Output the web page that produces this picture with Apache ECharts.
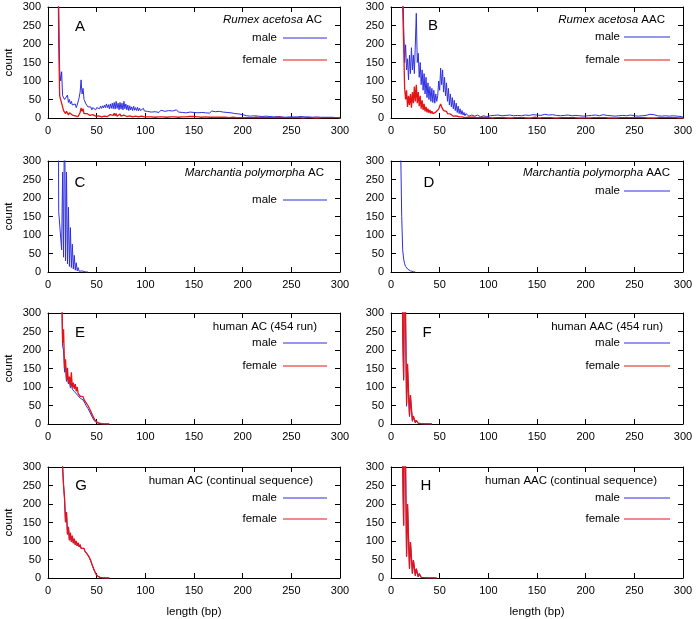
<!DOCTYPE html>
<html>
<head>
<meta charset="utf-8">
<script src="https://cdn.jsdelivr.net/npm/echarts@6/dist/echarts.min.js"></script>
<style>
  html, body { margin: 0; padding: 0; background: #fff; }
  .container { width: 697px; height: 619px; }
</style>
</head>
<body>
<div class="container"></div>
<script>
// counts per repeat length (bp); "near" arrays step 1 bp, "tail" arrays step 2 bp
const aMaleStart = 10;
const aMale = [
    900, 300, 130, 100, 125, 60, 65, 50, 55, 45,
    62, 42, 50, 38, 45, 35, 40, 30, 38, 28,
    35, 40, 55, 70, 103, 65, 80, 50, 55, 38,
    40, 30, 32, 25, 30, 22, 28, 24, 30, 22,
    28, 23, 30, 25, 32, 26, 33, 27, 35, 28,
    38, 28, 36, 25, 38, 26, 40, 25, 42, 24,
    45, 26, 40, 22, 42, 24, 40, 22, 45, 25,
    38, 22, 35, 20, 33, 22, 30, 20, 32, 21,
    28, 20, 29, 19, 27, 20, 25, 18, 26, 19,
    24
];
const aFemale = [
    600, 200, 60, 55, 62, 30, 20, 25, 12, 18,
    15, 8, 14, 10, 16, 8, 12, 4, 6, 3,
    5, 4, 8, 15, 27, 18, 25, 12, 15, 10,
    12, 8, 11, 7, 10, 6, 9, 5, 8, 5,
    7, 4, 6, 4, 5, 3, 6, 4, 5, 3,
    6, 4, 7, 5, 9, 6, 12, 7, 13, 6,
    12, 5, 10, 6, 11, 5, 9, 4, 8, 5,
    7, 4, 6, 3, 6, 4, 5, 3, 6, 4,
    5, 3, 5, 3, 4, 3, 5, 2, 4, 3,
    4
];
const tailStart = 102;
const aMaleTail = [
    18, 22, 16, 20, 17, 19, 15, 21, 16, 18, 14, 20, 17, 19, 15, 22, 16, 20, 15, 19, 14, 18, 16, 21, 15,
    19, 14, 18, 15, 20, 14, 17, 13, 19, 15, 17, 12, 18, 14, 16, 12, 15, 11, 14, 10, 12, 9, 11, 8, 9,
    8, 6, 9, 5, 7, 6, 8, 5, 7, 4, 6, 5, 7, 4, 5, 3, 6, 4, 5, 3, 4, 2, 4, 3, 3,
    3, 2, 3, 2, 4, 2, 3, 1, 3, 2, 2, 1, 3, 2, 2, 1, 2, 1, 2, 1, 2, 1, 1, 2, 1
];
const aFemaleTail = [
    3, 5, 3, 4, 2, 5, 3, 4, 3, 5, 2, 4, 3, 5, 3, 4, 2, 4, 3, 5, 3, 6, 4, 8, 4,
    5, 3, 4, 2, 4, 3, 3, 2, 4, 2, 3, 2, 3, 2, 3, 2, 2, 1, 3, 2, 2, 1, 2, 1, 2,
    1, 2, 1, 2, 1, 1, 2, 1, 1, 2, 1, 1, 1, 2, 1, 1, 1, 1, 2, 1, 1, 1, 1, 1, 1,
    1, 1, 0, 1, 1, 0, 1, 1, 0, 1, 1, 0, 1, 0, 1, 1, 0, 1, 0, 1, 0, 1, 0, 1, 0
];

const bMaleStart = 10;
const bMale = [
    2000, 800, 400, 250, 150, 198, 130, 160, 103, 170,
    120, 190, 130, 170, 120, 200, 283, 150, 175, 110,
    150, 90, 130, 75, 120, 65, 110, 55, 95, 50,
    85, 45, 80, 42, 75, 40, 65, 45, 60, 100,
    75, 135, 90, 130, 70, 110, 60, 95, 45, 80,
    35, 65, 30, 55, 25, 48, 20, 40, 15, 32,
    12, 25, 10, 20, 8, 15, 6, 12, 7, 10,
    5, 9, 5, 8, 4, 8, 5, 7, 4, 8,
    4, 7, 3, 8, 4, 6, 3, 7, 4, 6,
    3
];
const bFemale = [
    1500, 600, 300, 200, 81, 50, 75, 30, 60, 35,
    65, 28, 70, 40, 85, 45, 90, 40, 70, 32,
    60, 25, 48, 22, 38, 18, 30, 15, 25, 14,
    22, 12, 18, 12, 16, 11, 16, 14, 18, 24,
    32, 38, 30, 26, 20, 22, 15, 18, 12, 14,
    9, 11, 7, 9, 5, 7, 4, 6, 3, 5,
    3, 4, 2, 3, 2, 3, 1, 2, 1, 2,
    1, 1, 2, 1, 1, 2, 1, 1, 1, 2,
    1, 1, 1, 1, 2, 1, 1, 1, 1, 1,
    1
];
const bMaleTail = [
    6, 3, 7, 4, 8, 3, 6, 4, 7, 3, 8, 4, 6, 3, 7, 4, 6, 3, 8, 4, 7, 3, 9, 5, 8,
    4, 7, 3, 10, 5, 8, 4, 9, 4, 7, 3, 6, 4, 7, 3, 8, 4, 6, 3, 7, 4, 6, 3, 5, 3,
    6, 3, 7, 4, 8, 3, 6, 4, 9, 4, 7, 3, 6, 4, 5, 3, 6, 3, 7, 4, 6, 3, 8, 4, 6,
    3, 5, 3, 6, 3, 7, 4, 10, 5, 9, 4, 6, 3, 5, 2, 6, 3, 5, 2, 6, 3, 5, 2, 4, 2
];
const bFemaleTail = [
    1, 0, 1, 1, 0, 1, 0, 1, 1, 0, 1, 0, 1, 1, 0, 1, 0, 1, 1, 0, 1, 0, 1, 2, 1,
    0, 1, 1, 0, 1, 0, 1, 1, 0, 1, 0, 1, 1, 0, 1, 0, 1, 0, 1, 1, 0, 1, 0, 1, 0,
    1, 0, 1, 1, 0, 1, 0, 1, 0, 1, 1, 0, 1, 0, 1, 0, 1, 1, 0, 1, 0, 1, 0, 1, 0,
    1, 0, 1, 0, 1, 1, 0, 1, 0, 1, 0, 1, 1, 0, 1, 0, 1, 0, 1, 0, 1, 1, 0, 1, 0
];

const cMaleStart = 10;
const cMale = [
    1000, 163, 163, 163, 60, 270, 40, 500, 30, 270,
    22, 175, 15, 120, 12, 75, 8, 45, 5, 25,
    3, 12, 2, 6, 1, 3, 0.5, 1, 0.2, 0.3,
    0, 0
];

const dMaleStart = 9;
const dMale = [
    2000, 320, 150, 60, 35, 22, 15, 11, 8, 6,
    4, 3, 2, 1.2, 0.7, 0.3, 0
];

const eStart = 13;
const eMale = [
    900, 380, 210, 200, 140, 158, 115, 130, 108, 115,
    98, 110, 94, 96, 88, 92, 82, 82, 76, 75,
    70, 70, 66, 65, 60, 56, 50, 48, 42, 38,
    32, 27, 21, 16, 11, 8, 5, 3, 2, 1.2,
    0.8, 0.5, 0.3, 0, 0, 0, 0, 0, 0, 0,
    0
];
const eFemale = [
    900, 400, 220, 256, 150, 175, 120, 152, 110, 128,
    105, 140, 98, 112, 95, 108, 88, 100, 82, 84,
    75, 78, 72, 74, 66, 70, 58, 60, 50, 46,
    40, 34, 28, 22, 17, 12, 8, 6, 4, 3,
    2, 1.5, 1, 0.6, 0.4, 0.2, 0.1, 0, 0, 0,
    0
];

const fStart = 10;
const fMale = [
    2000, 580, 250, 118, 500, 270, 48, 150, 82, 20,
    70, 38, 7, 19, 11, 3, 9, 5, 1.5, 4,
    2.5, 0.8, 2, 1.2, 0.4, 1, 0.5, 0.2, 0.5, 0.2,
    0.1, 0, 0
];
const fFemale = [
    2000, 600, 260, 125, 520, 290, 54, 163, 90, 24,
    78, 42, 9, 22, 13, 4, 10, 6, 2, 5,
    3, 1, 2.5, 1.5, 0.5, 1.2, 0.7, 0.2, 0.6, 0.3,
    0.1, 0, 0
];

const gStart = 13;
const gMale = [
    900, 500, 300, 250, 215, 151, 178, 118, 138, 102,
    122, 98, 114, 94, 106, 90, 100, 87, 95, 84,
    90, 80, 85, 76, 80, 72, 74, 66, 66, 58,
    54, 46, 38, 31, 24, 18, 12, 8, 5, 3,
    2, 1.2, 0.8, 0.4, 0.2, 0.1, 0, 0, 0, 0,
    0
];
const gFemale = gMale.slice();

const hStart = 10;
const hMale = [
    2000, 600, 300, 142, 560, 300, 58, 200, 110, 25,
    97, 55, 12, 48, 28, 6, 25, 14, 3, 12,
    7, 1.5, 6, 3.5, 0.8, 3, 1.8, 0.4, 1.2, 0.7,
    0.2, 0.5, 0.3, 0.1, 0.2, 0.1, 0, 0
];
const hFemale = hMale.slice();

const xTicks = [0, 50, 100, 150, 200, 250, 300];
const yTicks = [0, 50, 100, 150, 200, 250, 300];

function toPoints(start, step, vals) {
    return vals.map((v, i) => [start + i * step, v]);
}

const BLUE = '#2f2fe0';
const RED = '#e41414';
const FONT = '"Liberation Sans", Arial, sans-serif';

const colLeft = [48, 391];
const rowTop = [7, 161, 313, 467];
const plotW = 292;
const plotH = 111;

// layout of each panel: title / legend placement in pixels
const panels = [
    { letter: 'A', col: 0, row: 0, letterPos: [80, 27], title: '{i|Rumex acetosa} AC', titleRight: 322, titleY: 20,
      series: [['male', BLUE, toPoints(aMaleStart, 1, aMale).concat(toPoints(tailStart, 2, aMaleTail))],
               ['female', RED, toPoints(aMaleStart, 1, aFemale).concat(toPoints(tailStart, 2, aFemaleTail))]],
      legendY: [38, 60] },
    { letter: 'B', col: 1, row: 0, letterPos: [433, 26], title: '{i|Rumex acetosa} AAC', titleRight: 665, titleY: 20,
      series: [['male', BLUE, toPoints(bMaleStart, 1, bMale).concat(toPoints(tailStart, 2, bMaleTail))],
               ['female', RED, toPoints(bMaleStart, 1, bFemale).concat(toPoints(tailStart, 2, bFemaleTail))]],
      legendY: [37, 60] },
    { letter: 'C', col: 0, row: 1, letterPos: [80, 183], title: '{i|Marchantia polymorpha} AC', titleRight: 324, titleY: 173,
      series: [['male', BLUE, toPoints(cMaleStart, 1, cMale)]],
      legendY: [200] },
    { letter: 'D', col: 1, row: 1, letterPos: [429, 183], title: '{i|Marchantia polymorpha} AAC', titleRight: 670, titleY: 173,
      series: [['male', BLUE, toPoints(dMaleStart, 1, dMale)]],
      legendY: [191] },
    { letter: 'E', col: 0, row: 2, letterPos: [80, 333], title: 'human AC (454 run)', titleRight: 317, titleY: 327,
      series: [['male', BLUE, toPoints(eStart, 1, eMale)], ['female', RED, toPoints(eStart, 1, eFemale)]],
      legendY: [343, 366] },
    { letter: 'F', col: 1, row: 2, letterPos: [427, 333], title: 'human AAC (454 run)', titleRight: 663, titleY: 327,
      series: [['male', BLUE, toPoints(fStart, 1, fMale)], ['female', RED, toPoints(fStart, 1, fFemale)]],
      legendY: [343, 366] },
    { letter: 'G', col: 0, row: 3, letterPos: [81, 486], title: 'human AC (continual sequence)', titleRight: 313, titleY: 481,
      series: [['male', BLUE, toPoints(gStart, 1, gMale)], ['female', RED, toPoints(gStart, 1, gFemale)]],
      legendY: [498, 519] },
    { letter: 'H', col: 1, row: 3, letterPos: [426, 486], title: 'human AAC (continual sequence)', titleRight: 657, titleY: 481,
      series: [['male', BLUE, toPoints(hStart, 1, hMale)], ['female', RED, toPoints(hStart, 1, hFemale)]],
      legendY: [498, 519] }
];

const legendGeom = [
    { textRight: 277, lineFrom: 283, lineTo: 327 },
    { textRight: 620, lineFrom: 624, lineTo: 670 }
];

(function () {
    let myChart = echarts.init(document.querySelector('.container'), null, { renderer: 'canvas' });

    const grid = [], xAxis = [], yAxis = [], series = [], graphic = [];

    const axisLine = { show: true, onZero: false, lineStyle: { color: '#000', width: 1 } };
    const axisTick = { show: true, inside: true, length: 5, lineStyle: { color: '#000', width: 1 } };
    const label = { fontSize: 11, color: '#000', fontFamily: FONT, margin: 7 };

    panels.forEach((p, i) => {
        grid.push({ left: colLeft[p.col], top: rowTop[p.row], width: plotW, height: plotH });
        const xBase = { gridIndex: i, type: 'value', min: xTicks[0], max: xTicks[xTicks.length - 1],
            interval: xTicks[1] - xTicks[0], axisLine, axisTick, splitLine: { show: false } };
        const yBase = { gridIndex: i, type: 'value', min: yTicks[0], max: yTicks[yTicks.length - 1],
            interval: yTicks[1] - yTicks[0], axisLine, axisTick, splitLine: { show: false } };
        xAxis.push(Object.assign({ position: 'bottom', axisLabel: label }, xBase));
        xAxis.push(Object.assign({ position: 'top', axisLabel: { show: false } }, xBase));
        yAxis.push(Object.assign({ position: 'left', axisLabel: label }, yBase));
        yAxis.push(Object.assign({ position: 'right', axisLabel: { show: false } }, yBase));

        p.series.forEach(([name, color, data]) => {
            series.push({
                name, type: 'line', xAxisIndex: 2 * i, yAxisIndex: 2 * i,
                data, symbol: 'none', showSymbol: false, clip: true,
                lineStyle: { color, width: color === RED ? 1.3 : 1 }, itemStyle: { color }
            });
        });

        // panel letter
        graphic.push({ type: 'text', x: p.letterPos[0], y: p.letterPos[1],
            style: { text: p.letter, fontSize: 15, fontFamily: FONT, fill: '#000', align: 'center', verticalAlign: 'middle' } });
        // key title
        graphic.push({ type: 'text', x: p.titleRight, y: p.titleY,
            style: { text: p.title, fontSize: 11.5, fontFamily: FONT, fill: '#000', align: 'right', verticalAlign: 'middle',
                rich: { i: { fontStyle: 'italic', fontSize: 11.5, fontFamily: FONT, fill: '#000' } } } });
        // key entries
        const g = legendGeom[p.col];
        p.series.forEach(([name, color], k) => {
            const y = p.legendY[k];
            graphic.push({ type: 'text', x: g.textRight, y,
                style: { text: name, fontSize: 11.5, fontFamily: FONT, fill: '#000', align: 'right', verticalAlign: 'middle' } });
            graphic.push({ type: 'line', shape: { x1: g.lineFrom, y1: y, x2: g.lineTo, y2: y },
                style: { stroke: color, lineWidth: 1 } });
        });

        if (p.col === 0) {
            graphic.push({ type: 'text', x: 9, y: rowTop[p.row] + plotH / 2, rotation: Math.PI / 2,
                style: { text: 'count', fontSize: 11.5, fontFamily: FONT, fill: '#000', align: 'center', verticalAlign: 'middle' } });
        }
        if (p.row === 3) {
            graphic.push({ type: 'text', x: colLeft[p.col] + plotW / 2, y: 612,
                style: { text: 'length (bp)', fontSize: 11.5, fontFamily: FONT, fill: '#000', align: 'center', verticalAlign: 'middle' } });
        }
    });

    const option = {
        backgroundColor: '#fff',
        animation: false,
        grid, xAxis, yAxis, series, graphic
    };

    myChart.setOption(option);
})();
</script>
</body>
</html>
